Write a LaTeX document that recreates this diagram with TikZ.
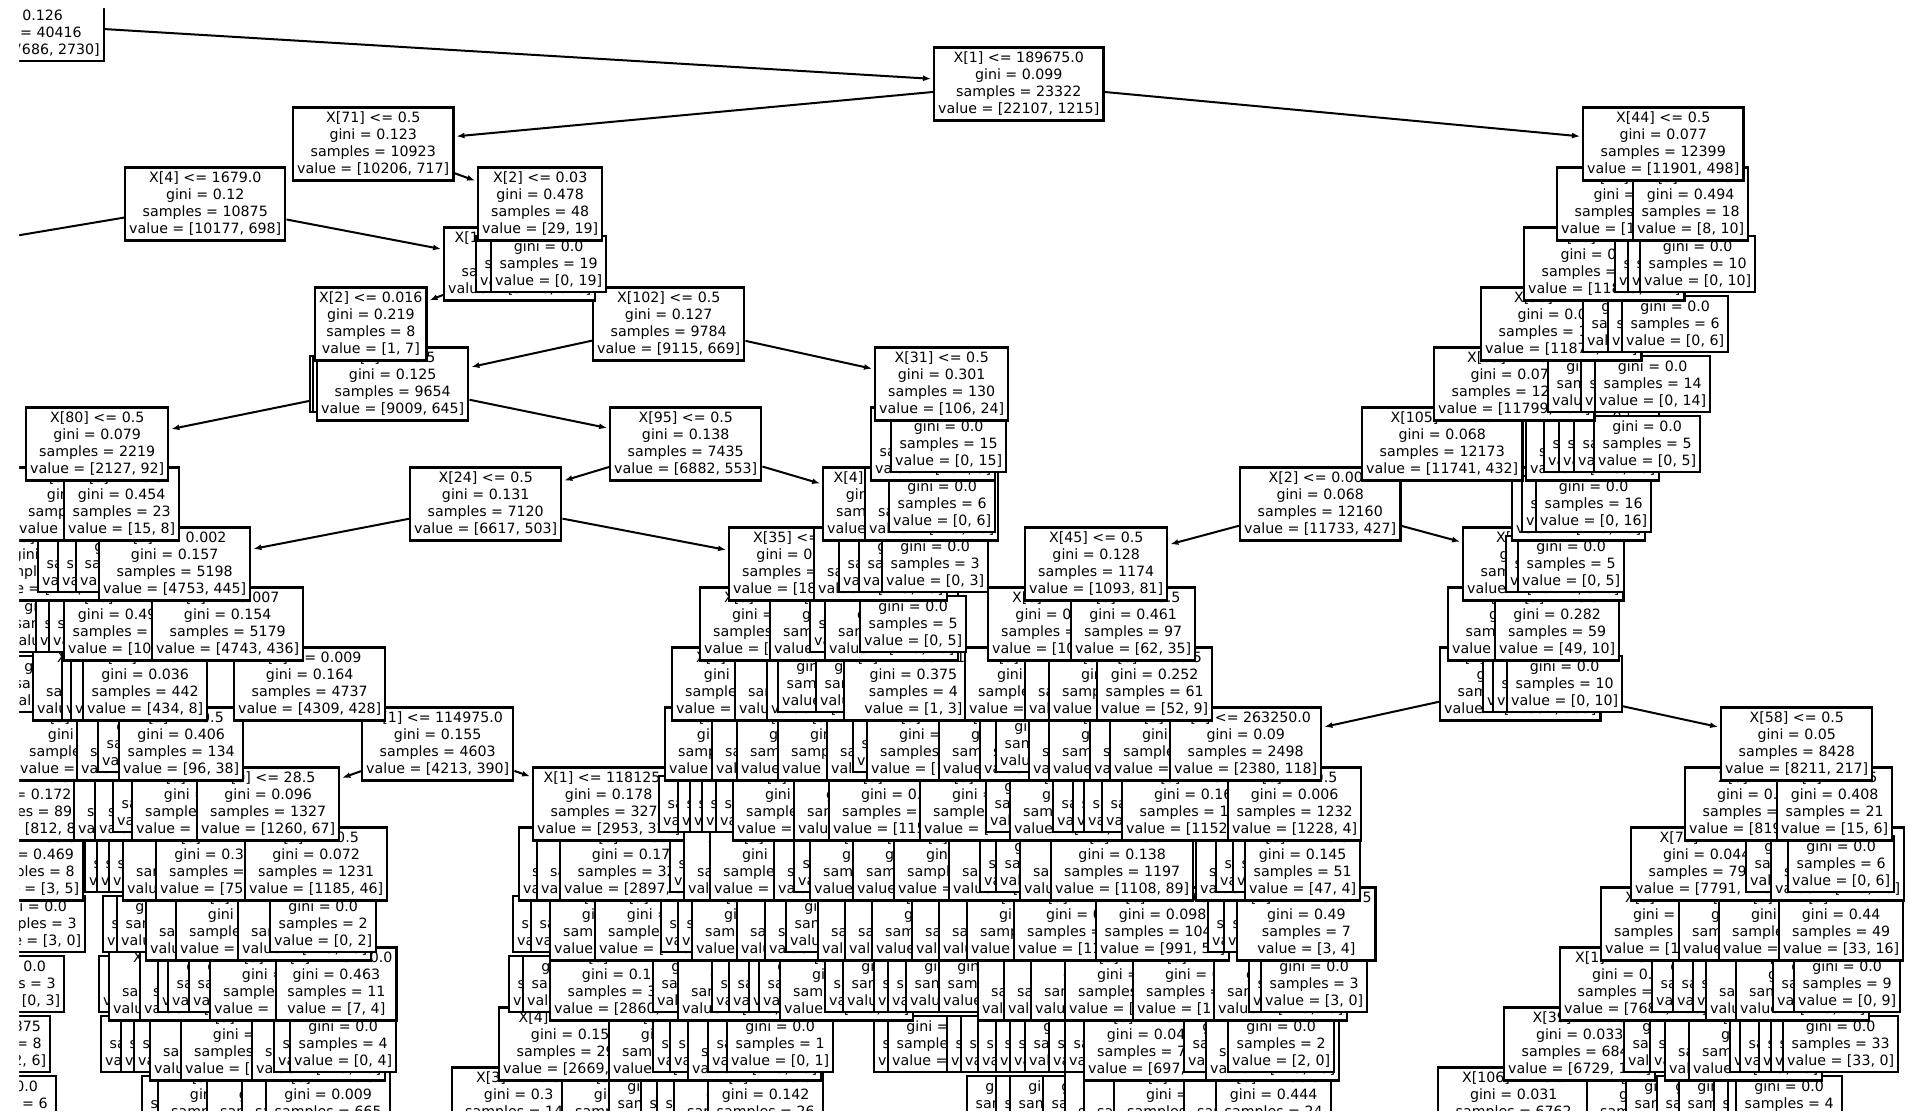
\documentclass[tikz,border=0pt]{standalone}
\usepackage{fontspec}
\newfontfamily\treefont{DejaVu Sans}
\usetikzlibrary{arrows.meta}

% one layer per tree depth, shallow nodes on top
\pgfdeclarelayer{l18}\pgfdeclarelayer{l17}\pgfdeclarelayer{l16}\pgfdeclarelayer{l15}
\pgfdeclarelayer{l14}\pgfdeclarelayer{l13}\pgfdeclarelayer{l12}\pgfdeclarelayer{l11}
\pgfdeclarelayer{l10}\pgfdeclarelayer{l9}\pgfdeclarelayer{l8}\pgfdeclarelayer{l7}
\pgfdeclarelayer{l6}\pgfdeclarelayer{l5}\pgfdeclarelayer{l4}\pgfdeclarelayer{l3}
\pgfdeclarelayer{l2}\pgfdeclarelayer{l1}\pgfdeclarelayer{l0}\pgfdeclarelayer{front}
\pgfsetlayers{l18,l17,l16,l15,l14,l13,l12,l11,l10,l9,l8,l7,l6,l5,l4,l3,l2,l1,l0,main,front}

\newcommand\txts{X[3] <= 0.5\\gini = 0.3\\samples = 140\\value = [115, 25]}
\newcommand\txtl{gini = 0.0\\samples = 5\\value = [0, 5]}

\begin{document}
\begin{tikzpicture}[x=1pt, y=-1pt,
  tbox/.style={draw, fill=white, line width=2.4pt, anchor=west, align=center,
    inner xsep=4pt, inner ysep=4.5pt, font=\treefont\fontsize{14.2}{17}\selectfont},
  arr/.style={-{Latex[length=8pt,width=6pt]}, line width=2pt, shorten >=2pt},
]
\useasboundingbox (0,0) rectangle (1910,1114);
\coordinate (offl) at (-140,262);

% depth 0-2
\begin{pgfonlayer}{l0}
\node[tbox, anchor=east] (n0) at (105,24) {\strut\\gini = 0.126\\samples = 40416\\value = [37686, 2730]};
\end{pgfonlayer}
\begin{pgfonlayer}{l1}
\node[tbox] (x1a) at (933,84) {X[1] <= 189675.0\\gini = 0.099\\samples = 23322\\value = [22107, 1215]};
\draw[arr] (n0) -- (x1a);
\end{pgfonlayer}
\begin{pgfonlayer}{l2}
\node[tbox] (x71) at (292,144) {X[71] <= 0.5\\gini = 0.123\\samples = 10923\\value = [10206, 717]};
\draw[arr] (x1a) -- (x71);
\node[tbox] (x44) at (1582,144) {X[44] <= 0.5\\gini = 0.077\\samples = 12399\\value = [11901, 498]};
\draw[arr] (x1a) -- (x44);
\end{pgfonlayer}

% depth 3
\begin{pgfonlayer}{l3}
\node[tbox] (x4a) at (124,204) {X[4] <= 1679.0\\gini = 0.12\\samples = 10875\\value = [10177, 698]};
\node[tbox] (x2a) at (477,204) {X[2] <= 0.03\\gini = 0.478\\samples = 48\\value = [29, 19]};
\draw[arr] (x71) -- (x2a);
\node[tbox] (r3) at (1556,204) {X[20] <= 0.5\\gini = 0.076\\samples = 12381\\value = [11893, 488]};
\node[tbox] (r3b) at (1632,204) {X[3] <= 0.5\\gini = 0.494\\samples = 18\\value = [8, 10]};
\end{pgfonlayer}

% depth 4
\begin{pgfonlayer}{l4}
\draw[arr] (x4a) -- (offl);
\node[tbox] (b7) at (443,264) {X[1] <= 209856.5\\gini = 0.129\\samples = 9792\\value = [9116, 676]};
\draw[arr] (x4a) -- (b7);
\node[tbox] at (475,264) {gini = 0.0\\samples = 29\\value = [29, 0]};
\node[tbox] at (490,264) {gini = 0.0\\samples = 19\\value = [0, 19]};
\node[tbox] at (1523,264) {X[36] <= 0.5\\gini = 0.075\\samples = 12363\\value = [11885, 478]};
\foreach \x/\k in {1614/l,1627/l} {\node[tbox] at (\x,264) {\csname txt\k\endcsname};}
\node[tbox] at (1639,264) {gini = 0.0\\samples = 10\\value = [0, 10]};
\end{pgfonlayer}

% depth 5
\begin{pgfonlayer}{l5}
\node[tbox] (x2b) at (314,324) {X[2] <= 0.016\\gini = 0.219\\samples = 8\\value = [1, 7]};
\draw[arr] (b7) -- (x2b);
\node[tbox] (x102) at (592,324) {X[102] <= 0.5\\gini = 0.127\\samples = 9784\\value = [9115, 669]};
\node[tbox] at (1480,324) {X[56] <= 0.5\\gini = 0.074\\samples = 12345\\value = [11871, 474]};
\foreach \x/\k in {1582/l,1607/l} {\node[tbox] at (\x,324) {\csname txt\k\endcsname};}
\node[tbox] at (1621,324) {gini = 0.0\\samples = 6\\value = [0, 6]};
\end{pgfonlayer}

% depth 6
\begin{pgfonlayer}{l6}
\node[tbox] at (309,384) {gini = 0.0\\samples = 1\\value = [1, 0]};
\node[tbox] at (312,384) {gini = 0.0\\samples = 7\\value = [0, 7]};
\node[tbox] (n9654) at (316,384) {X[7] <= 0.5\\gini = 0.125\\samples = 9654\\value = [9009, 645]};
\draw[arr] (x102) -- (n9654);
\node[tbox] (x31) at (874,384) {X[31] <= 0.5\\gini = 0.301\\samples = 130\\value = [106, 24]};
\draw[arr] (x102) -- (x31);
\node[tbox] at (1433,384) {X[65] <= 0.5\\gini = 0.071\\samples = 12250\\value = [11799, 451]};
\foreach \x/\k in {1547/l,1580/l} {\node[tbox] at (\x,384) {\csname txt\k\endcsname};}
\node[tbox] at (1594,384) {gini = 0.0\\samples = 14\\value = [0, 14]};
\end{pgfonlayer}

% depth 7
\begin{pgfonlayer}{l7}
\node[tbox] (x80) at (25,444) {X[80] <= 0.5\\gini = 0.079\\samples = 2219\\value = [2127, 92]};
\draw[arr] (n9654) -- (x80);
\node[tbox] (x95) at (609,444) {X[95] <= 0.5\\gini = 0.138\\samples = 7435\\value = [6882, 553]};
\draw[arr] (n9654) -- (x95);
\node[tbox] at (870,444) {X[12] <= 0.5\\gini = 0.144\\samples = 115\\value = [106, 9]};
\node[tbox] at (890,444) {gini = 0.0\\samples = 15\\value = [0, 15]};
\node[tbox] (x105) at (1361,444) {X[105] <= 0.5\\gini = 0.068\\samples = 12173\\value = [11741, 432]};
\foreach \x/\k in {1525/s,1543/l,1558/l,1573/l} {\node[tbox] at (\x,444) {\csname txt\k\endcsname};}
\node[tbox] at (1593,444) {gini = 0.0\\samples = 5\\value = [0, 5]};
\end{pgfonlayer}

% depth 8
\begin{pgfonlayer}{l8}
\node[tbox] at (14,504) {\txts};
\node[tbox] at (63,504) {X[9] <= 0.5\\gini = 0.454\\samples = 23\\value = [15, 8]};
\node[tbox] (x24) at (409,504) {X[24] <= 0.5\\gini = 0.131\\samples = 7120\\value = [6617, 503]};
\draw[arr] (x95) -- (x24);
\node[tbox] (x4b) at (822,504) {X[4] <= 7073.5\\gini = 0.267\\samples = 315\\value = [265, 50]};
\draw[arr] (x95) -- (x4b);
\node[tbox] at (864,504) {\txts};
\node[tbox] at (888,504) {gini = 0.0\\samples = 6\\value = [0, 6]};
\node[tbox] (x2c) at (1239,504) {X[2] <= 0.004\\gini = 0.068\\samples = 12160\\value = [11733, 427]};
\foreach \x/\k in {1511/s,1521/l} {\node[tbox] at (\x,504) {\csname txt\k\endcsname};}
\node[tbox] at (1535,504) {gini = 0.0\\samples = 16\\value = [0, 16]};
\end{pgfonlayer}

% depth 9
\begin{pgfonlayer}{l9}
\foreach \x/\k in {-20/s,37/l,57/l,75/l} {\node[tbox] at (\x,564) {\csname txt\k\endcsname};}
\node[tbox] (g157) at (98,564) {X[2] <= 0.002\\gini = 0.157\\samples = 5198\\value = [4753, 445]};
\draw[arr] (x24) -- (g157);
\node[tbox] (x35) at (728,564) {X[35] <= 0.5\\gini = 0.059\\samples = 1922\\value = [1864, 58]};
\draw[arr] (x24) -- (x35);
\foreach \x/\k in {813/s,838/l,858/l} {\node[tbox] at (\x,564) {\csname txt\k\endcsname};}
\node[tbox] at (881,564) {gini = 0.0\\samples = 3\\value = [0, 3]};
\node[tbox] (x45) at (1024,564) {X[45] <= 0.5\\gini = 0.128\\samples = 1174\\value = [1093, 81]};
\draw[arr] (x2c) -- (x45);
\node[tbox] (r9) at (1462,564) {X[60] <= 0.5\\gini = 0.061\\samples = 10986\\value = [10640, 346]};
\draw[arr] (x2c) -- (r9);
\node[tbox] at (1505,564) {\txtl};
\node[tbox] at (1517,564) {gini = 0.0\\samples = 5\\value = [0, 5]};
\end{pgfonlayer}

% depth 10
\begin{pgfonlayer}{l10}
\foreach \x/\k in {5/l,35/l,48/l} {\node[tbox] at (\x,624) {\csname txt\k\endcsname};}
\node[tbox] at (63,624) {X[10] <= 0.5\\gini = 0.499\\samples = 19\\value = [10, 9]};
\node[tbox] at (151,624) {X[2] <= 0.007\\gini = 0.154\\samples = 5179\\value = [4743, 436]};
\foreach \x/\k in {699/s,769/s,809/l,824/s} {\node[tbox] at (\x,624) {\csname txt\k\endcsname};}
\node[tbox] at (859,624) {gini = 0.0\\samples = 5\\value = [0, 5]};
\node[tbox] at (987,624) {X[0] <= 62.5\\gini = 0.082\\samples = 1077\\value = [1031, 46]};
\node[tbox] at (1070,624) {X[0] <= 45.5\\gini = 0.461\\samples = 97\\value = [62, 35]};
\node[tbox] at (1447,624) {X[15] <= 0.5\\gini = 0.06\\samples = 10927\\value = [10591, 336]};
\node[tbox] at (1494,624) {X[9] <= 0.5\\gini = 0.282\\samples = 59\\value = [49, 10]};
\end{pgfonlayer}

% depth 11
\begin{pgfonlayer}{l11}
\foreach \x/\k in {5/l,32/s,61/s,70/s} {\node[tbox] at (\x,684) {\csname txt\k\endcsname};}
\node[tbox] at (82,684) {X[11] <= 0.5\\gini = 0.036\\samples = 442\\value = [434, 8]};
\node[tbox] at (233,684) {X[2] <= 0.009\\gini = 0.164\\samples = 4737\\value = [4309, 428]};
\foreach \x/\k in {671/s,734/s,766/s,777/l,815/l} {\node[tbox] at (\x,684) {\csname txt\k\endcsname};}
\node[tbox] at (843,684) {X[1] <= 163421.5\\gini = 0.375\\samples = 4\\value = [1, 3]};
\foreach \x/\k in {964/s,1024/s,1048/s} {\node[tbox] at (\x,684) {\csname txt\k\endcsname};}
\node[tbox] at (1096,684) {X[0] <= 36.5\\gini = 0.252\\samples = 61\\value = [52, 9]};
\node[tbox] (r11) at (1439,684) {X[1] <= 159045.0\\gini = 0.059\\samples = 10926\\value = [10591, 335]};
\foreach \x/\k in {1482/l,1492/l} {\node[tbox] at (\x,684) {\csname txt\k\endcsname};}
\node[tbox] at (1506,684) {gini = 0.0\\samples = 10\\value = [0, 10]};
\end{pgfonlayer}

% depth 12
\begin{pgfonlayer}{l12}
\foreach \x/\k in {15/s,76/s,97/l} {\node[tbox] at (\x,744) {\csname txt\k\endcsname};}
\node[tbox] at (118,744) {X[3] <= 0.5\\gini = 0.406\\samples = 134\\value = [96, 38]};
\node[tbox] (x1b) at (361,744) {X[1] <= 114975.0\\gini = 0.155\\samples = 4603\\value = [4213, 390]};
\foreach \x/\k in {664/s,711/s,736/s,777/s,826/s,852/l,866/s,938/s,979/s,995/l,1028/s,1048/s,1089/s,1109/s}
  {\node[tbox] at (\x,744) {\csname txt\k\endcsname};}
\node[tbox] (x1c) at (1169,744) {X[1] <= 263250.0\\gini = 0.09\\samples = 2498\\value = [2380, 118]};
\draw[arr] (r11) -- (x1c);
\node[tbox] (x58) at (1720,744) {X[58] <= 0.5\\gini = 0.05\\samples = 8428\\value = [8211, 217]};
\draw[arr] (r11) -- (x58);
\end{pgfonlayer}

% depth 13
\begin{pgfonlayer}{l13}
\node[tbox] at (-40,804) {X[5] <= 0.5\\gini = 0.172\\samples = 897\\value = [812, 85]};
\foreach \x/\k in {73/s,94/s,112/l,131/s} {\node[tbox] at (\x,804) {\csname txt\k\endcsname};}
\node[tbox] (x0a) at (196,804) {X[0] <= 28.5\\gini = 0.096\\samples = 1327\\value = [1260, 67]};
\draw[arr] (x1b) -- (x0a);
\node[tbox] (x1d) at (532,804) {X[1] <= 118125.0\\gini = 0.178\\samples = 3276\\value = [2953, 323]};
\draw[arr] (x1b) -- (x1d);
\foreach \x/\k in {658/l,677/l,689/l,701/l,715/l,732/s,793/s,828/s,919/s,985/l,1009/s,1052/l,1072/l,1083/l,1101/l}
  {\node[tbox] at (\x,804) {\csname txt\k\endcsname};}
\node[tbox] at (1121,804) {X[0] <= 30.5\\gini = 0.164\\samples = 1266\\value = [1152, 114]};
\node[tbox] at (1227,804) {X[8] <= 0.5\\gini = 0.006\\samples = 1232\\value = [1228, 4]};
\node[tbox] at (1684,804) {X[6] <= 0.5\\gini = 0.049\\samples = 8407\\value = [8196, 211]};
\node[tbox] at (1776,804) {X[2] <= 0.5\\gini = 0.408\\samples = 21\\value = [15, 6]};
\end{pgfonlayer}

% depth 14
\begin{pgfonlayer}{l14}
\node[tbox] at (-24,864) {X[0] <= 33.5\\gini = 0.469\\samples = 8\\value = [3, 5]};
\foreach \x/\k in {84/l,96/l,108/l,122/s} {\node[tbox] at (\x,864) {\csname txt\k\endcsname};}
\node[tbox] at (155,864) {X[0] <= 27.5\\gini = 0.342\\samples = 96\\value = [75, 21]};
\node[tbox] at (244,864) {X[5] <= 0.5\\gini = 0.072\\samples = 1231\\value = [1185, 46]};
\foreach \x/\k in {518/s,536/s} {\node[tbox] at (\x,864) {\csname txt\k\endcsname};}
\node[tbox] at (559,864) {X[0] <= 35.5\\gini = 0.173\\samples = 3203\\value = [2897, 306]};
\foreach \x/\k in {669/l,683/s,709/s,773/s,793/l,809/s,852/s,893/s,948/s,979/l,995/l,1019/s}
  {\node[tbox] at (\x,864) {\csname txt\k\endcsname};}
\node[tbox] at (1050,864) {X[3] <= 0.5\\gini = 0.138\\samples = 1197\\value = [1108, 89]};
\foreach \x/\k in {1195/s,1215/l,1232/l} {\node[tbox] at (\x,864) {\csname txt\k\endcsname};}
\node[tbox] at (1244,864) {X[0] <= 49.5\\gini = 0.145\\samples = 51\\value = [47, 4]};
\node[tbox] at (1630,864) {X[75] <= 0.5\\gini = 0.044\\samples = 7970\\value = [7791, 179]};
\foreach \x/\k in {1745/l,1770/s} {\node[tbox] at (\x,864) {\csname txt\k\endcsname};}
\node[tbox] at (1787,864) {gini = 0.0\\samples = 6\\value = [0, 6]};
\end{pgfonlayer}

% depth 15
\begin{pgfonlayer}{l15}
\node[tbox] at (-22,924) {gini = 0.0\\samples = 3\\value = [3, 0]};
\foreach \x/\k in {102/l,116/l,145/s,175/s,237/s} {\node[tbox] at (\x,924) {\csname txt\k\endcsname};}
\node[tbox] at (269,924) {gini = 0.0\\samples = 2\\value = [0, 2]};
\foreach \x/\k in {512/l,530/l,549/s,594/s,660/l,677/l,691/s,736/s,764/s,785/l,817/s,844/s,871/s,911/s,938/s,966/s,1013/s}
  {\node[tbox] at (\x,924) {\csname txt\k\endcsname};}
\node[tbox] at (1095,924) {X[0] <= 60.5\\gini = 0.098\\samples = 1045\\value = [991, 54]};
\foreach \x/\k in {1207/l,1223/l} {\node[tbox] at (\x,924) {\csname txt\k\endcsname};}
\node[tbox] at (1236,924) {X[1] <= 210404.5\\gini = 0.49\\samples = 7\\value = [3, 4]};
\foreach \x/\k in {1600/s,1678/s,1718/s} {\node[tbox] at (\x,924) {\csname txt\k\endcsname};}
\node[tbox] at (1778,924) {X[3] <= 0.5\\gini = 0.44\\samples = 49\\value = [33, 16]};
\end{pgfonlayer}

% depth 16
\begin{pgfonlayer}{l16}
\node[tbox] at (-43,984) {gini = 0.0\\samples = 3\\value = [0, 3]};
\foreach \x/\k in {98/l,108/s,139/s,157/l,167/l,188/l,209/s} {\node[tbox] at (\x,984) {\csname txt\k\endcsname};}
\node[tbox] at (275,984) {X[4] <= 3120.0\\gini = 0.463\\samples = 11\\value = [7, 4]};
\foreach \x/\k in {508/l,522/l} {\node[tbox] at (\x,984) {\csname txt\k\endcsname};}
\node[tbox] at (549,984) {X[0] <= 24.5\\gini = 0.167\\samples = 3150\\value = [2860, 290]};
\foreach \x/\k in {652/l,677/s,711/l,728/l,748/l,758/l,779/s,824/l,842/l,873/l,887/l,905/l,938/l,977/s,1003/s,1030/s,1064/s,1132/s,1213/s,1248/l}
  {\node[tbox] at (\x,984) {\csname txt\k\endcsname};}
\node[tbox] at (1260,984) {gini = 0.0\\samples = 3\\value = [3, 0]};
\node[tbox] at (1559,984) {X[1] <= 35318.5\\gini = 0.042\\samples = 7852\\value = [7684, 168]};
\foreach \x/\k in {1651/l,1672/l,1692/l,1705/s,1735/s,1772/l} {\node[tbox] at (\x,984) {\csname txt\k\endcsname};}
\node[tbox] at (1793,984) {gini = 0.0\\samples = 9\\value = [0, 9]};
\end{pgfonlayer}

% depth 17
\begin{pgfonlayer}{l17}
\node[tbox] at (-57,1044) {gini = 0.375\\samples = 8\\value = [2, 6]};
\foreach \x/\k in {100/l,120/l,133/l,149/s,180/s,251/s,273/l} {\node[tbox] at (\x,1044) {\csname txt\k\endcsname};}
\node[tbox] at (289,1044) {gini = 0.0\\samples = 4\\value = [0, 4]};
\node[tbox] at (498,1044) {X[4] <= 4718.5\\gini = 0.152\\samples = 2911\\value = [2669, 242]};
\foreach \x/\k in {608/s,652/l,669/l,687/s,707/l} {\node[tbox] at (\x,1044) {\csname txt\k\endcsname};}
\node[tbox] at (726,1044) {gini = 0.0\\samples = 1\\value = [0, 1]};
\foreach \x/\k in {873/l,887/l,946/l,960/l,977/l,995/l,1009/l,1024/l,1048/l,1064/l} {\node[tbox] at (\x,1044) {\csname txt\k\endcsname};}
\node[tbox] at (1083,1044) {X[0] <= 52.5\\gini = 0.044\\samples = 713\\value = [697, 16]};
\foreach \x/\k in {1183/l,1205/s} {\node[tbox] at (\x,1044) {\csname txt\k\endcsname};}
\node[tbox] at (1227,1044) {gini = 0.0\\samples = 2\\value = [2, 0]};
\node[tbox] at (1503,1044) {X[39] <= 0.5\\gini = 0.033\\samples = 6844\\value = [6729, 115]};
\foreach \x/\k in {1623/l,1649/l,1664/s,1688/s,1729/l,1739/l,1758/l,1770/l} {\node[tbox] at (\x,1044) {\csname txt\k\endcsname};}
\node[tbox] at (1782,1044) {gini = 0.0\\samples = 33\\value = [33, 0]};
\end{pgfonlayer}

% depth 18
\begin{pgfonlayer}{l18}
\node[tbox] at (-51,1104) {gini = 0.0\\samples = 6\\value = [6, 0]};
\foreach \x/\k in {141/l,157/s,206/s,241/s} {\node[tbox] at (\x,1104) {\csname txt\k\endcsname};}
\node[tbox] at (265,1104) {X[0] <= 20.5\\gini = 0.009\\samples = 665\\value = [662, 3]};
\foreach \x/\k in {451/s,561/s,608/l,640/l,656/l,673/s} {\node[tbox] at (\x,1104) {\csname txt\k\endcsname};}
\node[tbox] at (707,1104) {X[0] <= 29.5\\gini = 0.142\\samples = 26\\value = [24, 2]};
\foreach \x/\k in {966/l,995/l,1009/l,1042/l,1064/s,1083/s,1113/s,1183/s} {\node[tbox] at (\x,1104) {\csname txt\k\endcsname};}
\node[tbox] at (1215,1104) {X[0] <= 56.5\\gini = 0.444\\samples = 24\\value = [16, 8]};
\node[tbox] at (1437,1104) {X[106] <= 0.5\\gini = 0.031\\samples = 6762\\value = [6656, 106]};
\foreach \x/\k in {1586/s,1625/l,1656/l,1678/l,1713/l,1727/l} {\node[tbox] at (\x,1104) {\csname txt\k\endcsname};}
\node[tbox] at (1735,1104) {gini = 0.0\\samples = 4\\value = [0, 4]};
\end{pgfonlayer}

% plot area frame
\begin{pgfonlayer}{front}
\fill[white, even odd rule] (-400,-400) rectangle (2400,1600) (19,8) rectangle (1906,1111);
\end{pgfonlayer}
\end{tikzpicture}
\end{document}
